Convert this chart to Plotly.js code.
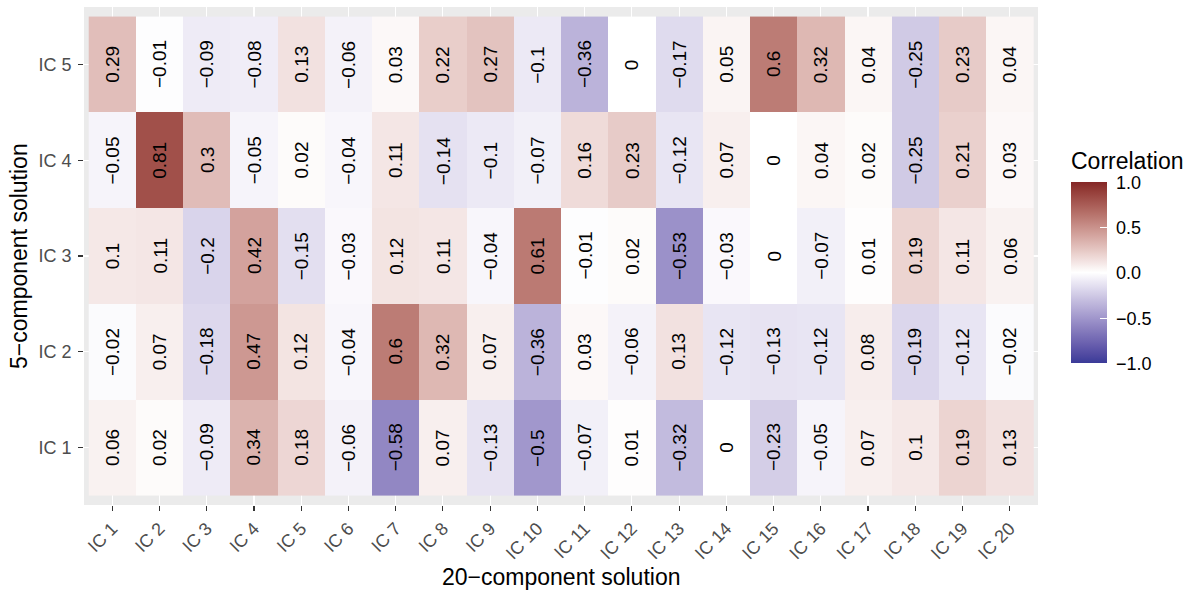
<!DOCTYPE html>
<html>
<head>
<meta charset="utf-8">
<script src="https://cdn.plot.ly/plotly-3.0.1.min.js"></script>
<style>html,body{margin:0;padding:0;background:#fff;}#chart{width:1190px;height:590px;}</style>
</head>
<body>
<div id="chart"></div>
<script>
// 20-component solution (x) and 5-component solution (y)
const xCats = ["IC 1","IC 2","IC 3","IC 4","IC 5","IC 6","IC 7","IC 8","IC 9","IC 10",
               "IC 11","IC 12","IC 13","IC 14","IC 15","IC 16","IC 17","IC 18","IC 19","IC 20"];
const yCats = ["IC 1","IC 2","IC 3","IC 4","IC 5"];

const rowIC1 = [0.06, 0.02, -0.09, 0.34, 0.18, -0.06, -0.58, 0.07, -0.13, -0.5, -0.07, 0.01, -0.32, 0, -0.23, -0.05, 0.07, 0.1, 0.19, 0.13];
const rowIC2 = [-0.02, 0.07, -0.18, 0.47, 0.12, -0.04, 0.6, 0.32, 0.07, -0.36, 0.03, -0.06, 0.13, -0.12, -0.13, -0.12, 0.08, -0.19, -0.12, -0.02];
const rowIC3 = [0.1, 0.11, -0.2, 0.42, -0.15, -0.03, 0.12, 0.11, -0.04, 0.61, -0.01, 0.02, -0.53, -0.03, 0, -0.07, 0.01, 0.19, 0.11, 0.06];
const rowIC4 = [-0.05, 0.81, 0.3, -0.05, 0.02, -0.04, 0.11, -0.14, -0.1, -0.07, 0.16, 0.23, -0.12, 0.07, 0, 0.04, 0.02, -0.25, 0.21, 0.03];
const rowIC5 = [0.29, -0.01, -0.09, -0.08, 0.13, -0.06, 0.03, 0.22, 0.27, -0.1, -0.36, 0, -0.17, 0.05, 0.6, 0.32, 0.04, -0.25, 0.23, 0.04];

const legendTickVals = [-1, -0.5, 0, 0.5, 1];
const legendTickText = ["\u22121.0", "\u22120.5", "0.0", "0.5", "1.0"];

const z = [rowIC1, rowIC2, rowIC3, rowIC4, rowIC5];

// --- diverging colour scale interpolated in Lab space (like ggplot2 gradient2)
const LOW = [58, 58, 152], MID = [255, 255, 255], HIGH = [133, 38, 38];
function s2l(c){c/=255;return c<=0.04045?c/12.92:Math.pow((c+0.055)/1.055,2.4);}
function l2s(c){c=c<=0.0031308?12.92*c:1.055*Math.pow(c,1/2.4)-0.055;return Math.max(0,Math.min(255,Math.round(c*255)));}
function rgb2lab(rgb){
  const r=s2l(rgb[0]),g=s2l(rgb[1]),b=s2l(rgb[2]);
  let X=(0.4124*r+0.3576*g+0.1805*b)/0.95047, Y=0.2126*r+0.7152*g+0.0722*b, Z=(0.0193*r+0.1192*g+0.9505*b)/1.08883;
  const f=t=>t>0.008856?Math.cbrt(t):7.787*t+16/116;
  const fx=f(X),fy=f(Y),fz=f(Z);
  return [116*fy-16,500*(fx-fy),200*(fy-fz)];
}
function lab2rgb(lab){
  const fy=(lab[0]+16)/116, fx=fy+lab[1]/500, fz=fy-lab[2]/200;
  const fi=t=>t>0.206893?t*t*t:(t-16/116)/7.787;
  const X=fi(fx)*0.95047, Y=fi(fy), Z=fi(fz)*1.08883;
  const r=3.2406*X-1.5372*Y-0.4986*Z, g=-0.9689*X+1.8758*Y+0.0415*Z, b=0.0557*X-0.2040*Y+1.0570*Z;
  return [l2s(r),l2s(g),l2s(b)];
}
const labL=rgb2lab(LOW), labM=rgb2lab(MID), labH=rgb2lab(HIGH);
const colorscale=[];
const N=40;
for(let i=0;i<=N;i++){
  const f=i/N; let a,b,t;
  if(f<0.5){a=labL;b=labM;t=f/0.5;}else{a=labM;b=labH;t=(f-0.5)/0.5;}
  const lab=[a[0]+(b[0]-a[0])*t,a[1]+(b[1]-a[1])*t,a[2]+(b[2]-a[2])*t];
  const c=lab2rgb(lab);
  colorscale.push([f,'rgb('+c.join(',')+')']);
}

const FONT = '"Liberation Sans", Arial, Helvetica, sans-serif';
const plotL=84, plotR=1038, plotT=7, plotB=505;
const W=1190, H=590;
const pw=plotR-plotL, ph=plotB-plotT;
const px=x=>(x-plotL)/pw;
const py=y=>(plotB-y)/ph;

const trace = {
  type:'heatmap', x:xCats, y:yCats, z:z,
  zmin:-1, zmax:1, colorscale:colorscale,
  hoverinfo:'x+y+z',
  colorbar:{
    x:px(1071), xanchor:'left', xpad:0,
    y:py(273), yanchor:'middle', ypad:0,
    len:181, lenmode:'pixels', thickness:36, thicknessmode:'pixels',
    outlinewidth:0,
    tickmode:'array', tickvals:legendTickVals,
    ticktext:legendTickText.map(s=>'\u00a0'+s),
    ticks:'inside', ticklen:7, tickcolor:'#ffffff', tickwidth:1,
    tickfont:{family:FONT, size:18, color:'#000'}
  }
};

const annotations=[];
z.forEach((row,i)=>{
  row.forEach((v,j)=>{
    annotations.push({
      x:xCats[j], y:yCats[i], xref:'x', yref:'y',
      text:String(v).replace('-','\u2212'),
      textangle:-90, showarrow:false,
      font:{family:FONT, size:19, color:'#000'}
    });
  });
});
annotations.push({
  x:0.5, y:py(577), xref:'paper', yref:'paper', xanchor:'center', yanchor:'middle',
  text:'20\u2212component solution', showarrow:false,
  font:{family:FONT, size:23, color:'#000'}
});
annotations.push({
  x:px(19), y:0.5, xref:'paper', yref:'paper', xanchor:'center', yanchor:'middle',
  text:'5\u2212component solution', textangle:-90, showarrow:false,
  font:{family:FONT, size:23, color:'#000'}
});
annotations.push({
  x:px(1069), y:py(161), xref:'paper', yref:'paper', xanchor:'left', yanchor:'middle',
  text:'Correlation', showarrow:false,
  font:{family:FONT, size:23, color:'#000'}
});

const layout = {
  width:W, height:H,
  margin:{l:plotL, r:W-plotR, t:plotT, b:H-plotB, pad:0},
  paper_bgcolor:'#ffffff', plot_bgcolor:'#EBEBEB',
  font:{family:FONT},
  xaxis:{
    type:'category', range:[-0.6, 19.6], automargin:false,
    showgrid:true, gridcolor:'#ffffff', gridwidth:1.1, zeroline:false, showline:false,
    ticks:'outside', ticklen:5, tickwidth:1.1, tickcolor:'#333333',
    tickangle:-45, tickfont:{family:FONT, size:18, color:'#4D4D4D'}
  },
  yaxis:{
    type:'category', range:[-0.6, 4.6], automargin:false,
    showgrid:true, gridcolor:'#ffffff', gridwidth:1.1, zeroline:false, showline:false,
    ticks:'outside', ticklen:5, tickwidth:1.1, tickcolor:'#333333',
    ticklabelstandoff:3,
    tickfont:{family:FONT, size:18, color:'#4D4D4D'}
  },
  annotations:annotations
};

Plotly.newPlot('chart',[trace],layout,{displayModeBar:false, staticPlot:true});
</script>
</body>
</html>
